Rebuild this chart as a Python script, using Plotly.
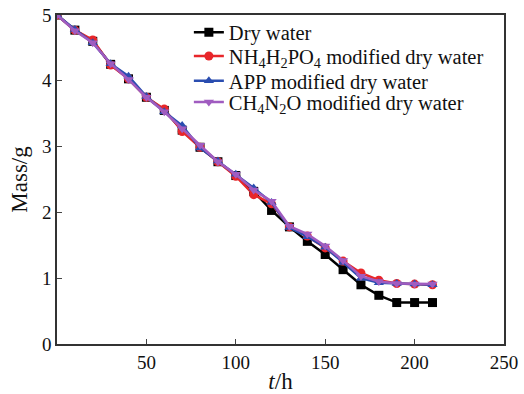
import plotly.graph_objects as go

t = [0, 10, 20, 30, 40, 50, 60, 70, 80, 90, 100, 110, 120, 130, 140, 150, 160, 170, 180, 190, 200, 210]
dry = [5.0, 4.77, 4.60, 4.25, 4.03, 3.75, 3.55, 3.25, 2.99, 2.77, 2.56, 2.32, 2.03, 1.78, 1.56, 1.36, 1.13, 0.90, 0.74, 0.63, 0.63, 0.63]
nh4 = [5.0, 4.77, 4.62, 4.24, 4.03, 3.75, 3.57, 3.23, 2.99, 2.77, 2.55, 2.27, 2.13, 1.78, 1.64, 1.46, 1.26, 1.08, 0.97, 0.92, 0.91, 0.90]
app = [5.0, 4.78, 4.58, 4.26, 4.07, 3.76, 3.53, 3.32, 2.98, 2.78, 2.58, 2.37, 2.15, 1.77, 1.63, 1.47, 1.24, 1.00, 0.93, 0.92, 0.91, 0.90]
ch4 = [5.0, 4.76, 4.58, 4.26, 4.02, 3.75, 3.53, 3.27, 3.02, 2.77, 2.58, 2.34, 2.17, 1.79, 1.67, 1.49, 1.27, 1.03, 0.95, 0.92, 0.91, 0.91]

names = ["Dry water",
         "NH<sub>4</sub>H<sub>2</sub>PO<sub>4</sub> modified dry water",
         "APP modified dry water",
         "CH<sub>4</sub>N<sub>2</sub>O modified dry water"]
series = [dry, nh4, app, ch4]
colors = ["#000000", "#e8262a", "#2a4db0", "#a05cc0"]
symbols = ["square", "circle", "triangle-up", "triangle-down"]

x_ticks = [50, 100, 150, 200, 250]
y_ticks = [0, 1, 2, 3, 4, 5]

legend_ids = ["legend", "legend2", "legend3", "legend4"]
legend_y = [0.947, 0.875, 0.800, 0.735]

fig = go.Figure()
for name, ys, c, s, lg in zip(names, series, colors, symbols, legend_ids):
    fig.add_trace(go.Scatter(x=t, y=ys, name=name, mode="lines+markers",
                             line=dict(color=c, width=2.5),
                             marker=dict(symbol=s, size=9, color=c),
                             legend=lg))

font = dict(family="Liberation Serif", size=19, color="#111")
legend_layout = {}
for lg, ly in zip(legend_ids, legend_y):
    legend_layout[lg] = dict(x=0.295, y=ly, xanchor="left", yanchor="middle",
                             bgcolor="rgba(255,255,255,0)", font=dict(size=20.5),
                             itemwidth=30, borderwidth=0)

fig.update_layout(
    width=524, height=394,
    margin=dict(l=57, r=20, t=15, b=50, autoexpand=False),
    paper_bgcolor="white", plot_bgcolor="white",
    font=font,
    showlegend=True,
    **legend_layout,
)
fig.update_xaxes(range=[0, 250], tickvals=x_ticks, ticks="inside", ticklen=5,
                 showline=True, linecolor="#333", linewidth=1.5, mirror=True,
                 showgrid=False, zeroline=False,
                 title=dict(text="<i>t</i>/h", standoff=4))
fig.update_yaxes(range=[0, 5], tickvals=y_ticks, ticks="inside", ticklen=5,
                 showline=True, linecolor="#333", linewidth=1.5, mirror=True,
                 showgrid=False, zeroline=False,
                 title=dict(text="Mass/g", standoff=8))

fig.write_html("out.html")
